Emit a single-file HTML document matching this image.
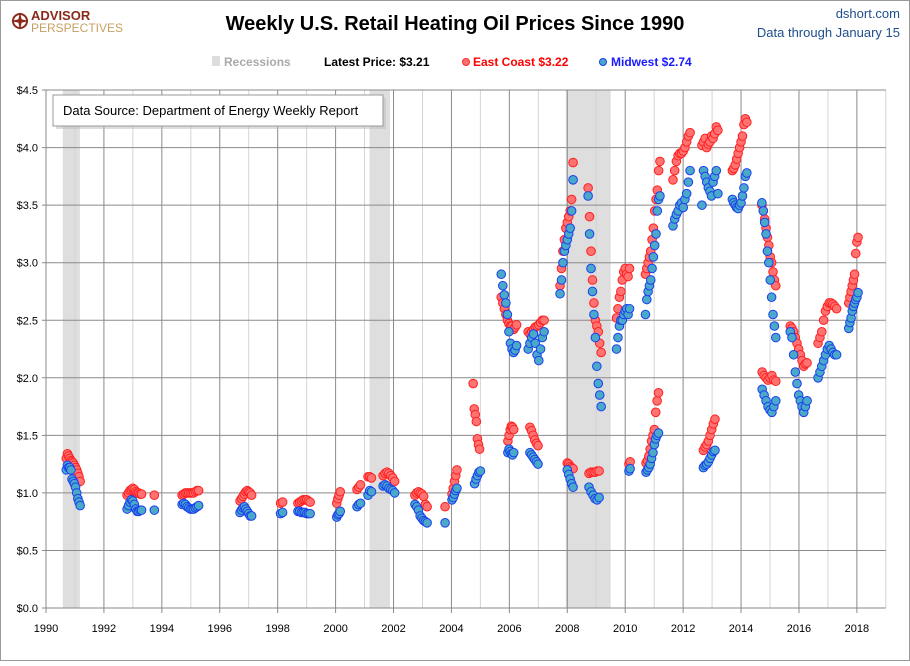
<!DOCTYPE html>
<html><head><meta charset="utf-8">
<style>
html,body{margin:0;padding:0;background:#fff;}
body{width:910px;height:661px;overflow:hidden;font-family:"Liberation Sans",sans-serif;}
</style></head>
<body>
<svg id="chart" width="910" height="661" xmlns="http://www.w3.org/2000/svg" font-family="Liberation Sans, sans-serif">
<rect x="0.5" y="0.5" width="909" height="660" fill="#fff" stroke="#9a9a9a"/>
<g>
<circle cx="20" cy="21" r="7" fill="none" stroke="#8b2a1a" stroke-width="2"/>
<path d="M20 12 L22 21 L20 30 L18 21 Z M11 21 L20 19 L29 21 L20 23 Z" fill="#8b2a1a"/>
<text x="31" y="20" font-size="13" font-weight="bold" fill="#8b2a1a">ADVISOR</text>
<text x="31" y="32" font-size="12" fill="#c8a060">PERSPECTIVES</text>
</g>
<text x="455" y="30" font-size="20" font-weight="bold" text-anchor="middle" fill="#000">Weekly U.S. Retail Heating Oil Prices Since 1990</text>
<text x="900" y="18" font-size="13" text-anchor="end" fill="#1f4e8c">dshort.com</text>
<text x="900" y="37" font-size="13" text-anchor="end" fill="#1f4e8c">Data through January 15</text>
<g font-size="12" font-weight="bold">
<rect x="212" y="56" width="8" height="10" fill="#ddd"/>
<text x="224" y="66" fill="#aaa">Recessions</text>
<text x="324" y="66" fill="#000">Latest Price:  $3.21</text>
<circle cx="466" cy="62" r="3.5" fill="#ff7070" stroke="#ff2a2a"/>
<text x="473" y="66" fill="#ff0000">East Coast  $3.22</text>
<circle cx="603" cy="62" r="3.5" fill="#4aa8c8" stroke="#1a3ff0"/>
<text x="611" y="66" fill="#1a1aff">Midwest  $2.74</text>
</g>
<g id="grid"></g>
<g id="marks"></g>
<g id="axes"></g>
<g>
<rect x="56" y="98" width="330" height="31" fill="#bbb" opacity="0.5"/>
<rect x="53" y="95" width="330" height="31" fill="#fff" stroke="#999"/>
<text x="63" y="115" font-size="13" fill="#000">Data Source: Department of Energy Weekly Report</text>
</g>
</svg>
<script>
// Segments: [startYear, endYear, values...]
const ecSegments = [
 [1990.70,1991.18,[1.30,1.34,1.32,1.30,1.28,1.27,1.26,1.24,1.22,1.20,1.17,1.14,1.10]],
 [1992.80,1993.30,[0.98,1.00,1.02,1.03,1.04,1.03,1.01,1.00,1.00,0.99,0.99]],
 [1993.74,1993.74,[0.98]],
 [1994.70,1995.27,[0.98,0.99,1.00,1.00,1.00,1.00,1.00,1.00,1.01,1.02,1.02]],
 [1996.70,1997.10,[0.93,0.95,0.97,0.99,1.01,1.02,1.01,1.00,0.98]],
 [1998.10,1998.17,[0.91,0.92]],
 [1998.70,1999.12,[0.91,0.92,0.93,0.94,0.94,0.94,0.93,0.92]],
 [2000.04,2000.16,[0.91,0.95,0.98,1.01]],
 [2000.74,2000.86,[1.03,1.05,1.07]],
 [2001.12,2001.24,[1.14,1.14,1.13]],
 [2001.64,2002.04,[1.15,1.17,1.18,1.17,1.15,1.13,1.10]],
 [2002.74,2003.16,[0.98,1.00,1.01,1.00,0.99,0.97,0.90,0.88]],
 [2003.78,2003.78,[0.88]],
 [2004.02,2004.19,[0.99,1.04,1.10,1.15,1.20]],
 [2004.75,2004.97,[1.95,1.73,1.68,1.62,1.47,1.42,1.38]],
 [2005.72,2006.25,[2.70,2.65,2.60,2.55,2.50,2.47,2.45,2.45,2.42,2.44,2.46]],
 [2005.95,2006.15,[1.45,1.50,1.55,1.58,1.57,1.55]],
 [2006.65,2007.20,[2.40,2.38,2.40,2.42,2.44,2.45,2.46,2.48,2.50,2.50]],
 [2006.71,2006.99,[1.57,1.54,1.50,1.46,1.43,1.41]],
 [2007.75,2008.20,[2.80,2.95,3.10,3.20,3.30,3.35,3.40,3.45,3.55,3.87]],
 [2008.00,2008.20,[1.26,1.25,1.23,1.22,1.21]],
 [2008.72,2009.17,[3.65,3.40,3.10,2.85,2.65,2.50,2.45,2.40,2.30,2.22]],
 [2008.75,2009.10,[1.17,1.18,1.18,1.18,1.19,1.19]],
 [2009.70,2010.15,[2.52,2.60,2.70,2.75,2.85,2.92,2.95,2.90,2.88,2.95]],
 [2010.13,2010.17,[1.25,1.27]],
 [2010.70,2011.20,[2.90,2.95,3.00,3.05,3.10,3.20,3.30,3.45,3.55,3.63,3.80,3.88]],
 [2010.72,2011.15,[1.26,1.28,1.32,1.38,1.45,1.50,1.55,1.70,1.80,1.87]],
 [2011.65,2012.24,[3.72,3.80,3.88,3.93,3.95,3.95,3.97,4.00,4.05,4.10,4.13]],
 [2012.65,2013.20,[4.02,4.05,4.08,4.00,4.03,4.05,4.10,4.08,4.12,4.18,4.15]],
 [2012.70,2013.10,[1.37,1.40,1.42,1.45,1.50,1.55,1.60,1.64]],
 [2013.70,2014.20,[3.80,3.82,3.85,3.90,3.95,4.00,4.05,4.10,4.20,4.25,4.22]],
 [2014.72,2015.20,[3.50,3.45,3.38,3.30,3.22,3.15,3.05,3.00,2.92,2.85,2.80]],
 [2014.73,2015.20,[2.05,2.02,2.00,1.98,2.00,2.02,1.98,1.97]],
 [2015.70,2016.28,[2.45,2.43,2.40,2.35,2.30,2.25,2.20,2.15,2.10,2.12,2.13]],
 [2016.66,2017.30,[2.30,2.35,2.40,2.50,2.58,2.62,2.65,2.65,2.64,2.62,2.60]],
 [2017.72,2018.04,[2.65,2.70,2.75,2.80,2.85,2.90,3.08,3.18,3.22]]
];
const mwSegments = [
 [1990.70,1991.18,[1.20,1.24,1.22,1.22,1.20,1.12,1.10,1.08,1.05,1.00,0.95,0.92,0.89]],
 [1992.80,1993.30,[0.86,0.89,0.92,0.94,0.93,0.90,0.86,0.84,0.84,0.85,0.85]],
 [1993.74,1993.74,[0.85]],
 [1994.70,1995.27,[0.90,0.91,0.90,0.88,0.87,0.86,0.86,0.86,0.87,0.88,0.89]],
 [1996.70,1997.10,[0.83,0.85,0.87,0.88,0.86,0.84,0.82,0.80,0.80]],
 [1998.10,1998.17,[0.82,0.83]],
 [1998.70,1999.12,[0.84,0.84,0.83,0.83,0.83,0.82,0.82,0.82]],
 [2000.04,2000.16,[0.79,0.81,0.82,0.84]],
 [2000.74,2000.86,[0.88,0.90,0.91]],
 [2001.12,2001.24,[0.98,1.02,1.01]],
 [2001.64,2002.04,[1.06,1.07,1.06,1.04,1.03,1.02,1.00]],
 [2002.74,2003.16,[0.90,0.88,0.85,0.80,0.78,0.76,0.75,0.74]],
 [2003.78,2003.78,[0.74]],
 [2004.02,2004.19,[0.94,0.96,0.99,1.02,1.04]],
 [2004.80,2005.00,[1.08,1.12,1.15,1.18,1.19]],
 [2005.72,2006.25,[2.90,2.80,2.72,2.65,2.55,2.40,2.30,2.25,2.22,2.24,2.28]],
 [2005.95,2006.15,[1.35,1.38,1.36,1.34,1.33,1.35]],
 [2006.65,2007.20,[2.25,2.30,2.35,2.38,2.30,2.20,2.15,2.25,2.35,2.40]],
 [2006.71,2006.99,[1.35,1.33,1.31,1.29,1.27,1.25]],
 [2007.75,2008.20,[2.73,2.85,3.00,3.10,3.15,3.20,3.25,3.30,3.45,3.72]],
 [2008.00,2008.20,[1.20,1.16,1.12,1.08,1.05]],
 [2008.72,2009.17,[3.58,3.25,2.95,2.75,2.55,2.35,2.10,1.95,1.85,1.75]],
 [2008.75,2009.10,[1.05,1.01,0.98,0.95,0.94,0.96]],
 [2009.70,2010.15,[2.25,2.35,2.45,2.50,2.50,2.55,2.58,2.60,2.55,2.60]],
 [2010.13,2010.17,[1.19,1.21]],
 [2010.70,2011.20,[2.55,2.68,2.75,2.80,2.85,2.95,3.05,3.15,3.25,3.45,3.55,3.58]],
 [2010.72,2011.15,[1.18,1.20,1.22,1.25,1.30,1.35,1.42,1.47,1.50,1.52]],
 [2011.65,2012.24,[3.32,3.38,3.42,3.45,3.50,3.52,3.48,3.55,3.60,3.70,3.80]],
 [2012.65,2013.20,[3.50,3.80,3.75,3.70,3.65,3.62,3.58,3.70,3.75,3.80,3.60]],
 [2012.70,2013.10,[1.22,1.24,1.25,1.27,1.30,1.33,1.36,1.37]],
 [2013.70,2014.20,[3.55,3.52,3.50,3.48,3.47,3.50,3.52,3.58,3.65,3.75,3.78]],
 [2014.72,2015.20,[3.52,3.45,3.35,3.25,3.10,3.00,2.85,2.70,2.55,2.45,2.35]],
 [2014.73,2015.20,[1.90,1.85,1.80,1.75,1.72,1.70,1.75,1.80]],
 [2015.70,2016.28,[2.40,2.35,2.20,2.05,1.95,1.85,1.80,1.75,1.70,1.75,1.80]],
 [2016.66,2017.30,[2.00,2.05,2.10,2.15,2.20,2.25,2.28,2.25,2.22,2.20,2.20]],
 [2017.72,2018.04,[2.43,2.48,2.52,2.58,2.62,2.65,2.68,2.70,2.74]]
];
const recessionStarts = [1990.58, 2001.17, 2007.95];
const recessionEnds = [1991.17, 2001.88, 2009.5];
const yTicks = [0,0.5,1.0,1.5,2.0,2.5,3.0,3.5,4.0,4.5];
const yTickLabels = ["$0.0","$0.5","$1.0","$1.5","$2.0","$2.5","$3.0","$3.5","$4.0","$4.5"];
const xTickYears = [1990,1992,1994,1996,1998,2000,2002,2004,2006,2008,2010,2012,2014,2016,2018];

const X0=46, PXY=28.96, Y0=608, PXV=115.1, XMIN=1990, XMAX=2019, YMAX=4.5;
const NS="http://www.w3.org/2000/svg";
function xs(yr){return X0+(yr-XMIN)*PXY;}
function ys(v){return Y0-v*PXV;}
function mk(tag,attrs,parent){const e=document.createElementNS(NS,tag);for(const k in attrs)e.setAttribute(k,attrs[k]);parent.appendChild(e);return e;}
const grid=document.getElementById('grid'), marks=document.getElementById('marks'), axes=document.getElementById('axes');

recessionStarts.forEach((s,i)=>{
 const r=mk('rect',{x:xs(s),y:ys(YMAX),width:xs(recessionEnds[i])-xs(s),height:ys(0)-ys(YMAX),fill:'#dedede'},grid);
 
 
});
for(let y=XMIN;y<=XMAX;y++){
 const l=mk('line',{x1:xs(y),x2:xs(y),y1:ys(YMAX),y2:ys(0)+(y%2===0?5:0),stroke:y%2===0?'#8a8a8a':'#d4d4d4','stroke-width':1},grid);
 
 
}
yTicks.forEach((v,i)=>{
 const l=mk('line',{x1:xs(XMIN)-4,x2:xs(XMAX),y1:ys(v),y2:ys(v),stroke:'#8a8a8a','stroke-width':1},grid);
 
 
 const t=mk('text',{x:xs(XMIN)-8,y:ys(v)+4,'font-size':11,'text-anchor':'end',fill:'#000'},axes);
 t.textContent=yTickLabels[i];
 
 
});
xTickYears.forEach(y=>{
 const t=mk('text',{x:xs(y),y:ys(0)+24,'font-size':11,'text-anchor':'middle',fill:'#000'},axes);
 t.textContent=String(y);
 
 
});
function drawSeries(segs,fill,stroke,name){
 segs.forEach(seg=>{
  const [s,e,vals]=seg; const n=vals.length;
  vals.forEach((v,i)=>{
   const yr=n>1?s+(e-s)*i/(n-1):s;
   const c=mk('circle',{cx:xs(yr),cy:ys(v),r:4.3,fill:fill,stroke:stroke,'stroke-width':1},marks);
   
   
  });
 });
}
drawSeries(ecSegments,'#ff7272','#ff2020','east-coast-point');
drawSeries(mwSegments,'#4aa8c8','#1a3ff0','midwest-point');
</script>
</body></html>
